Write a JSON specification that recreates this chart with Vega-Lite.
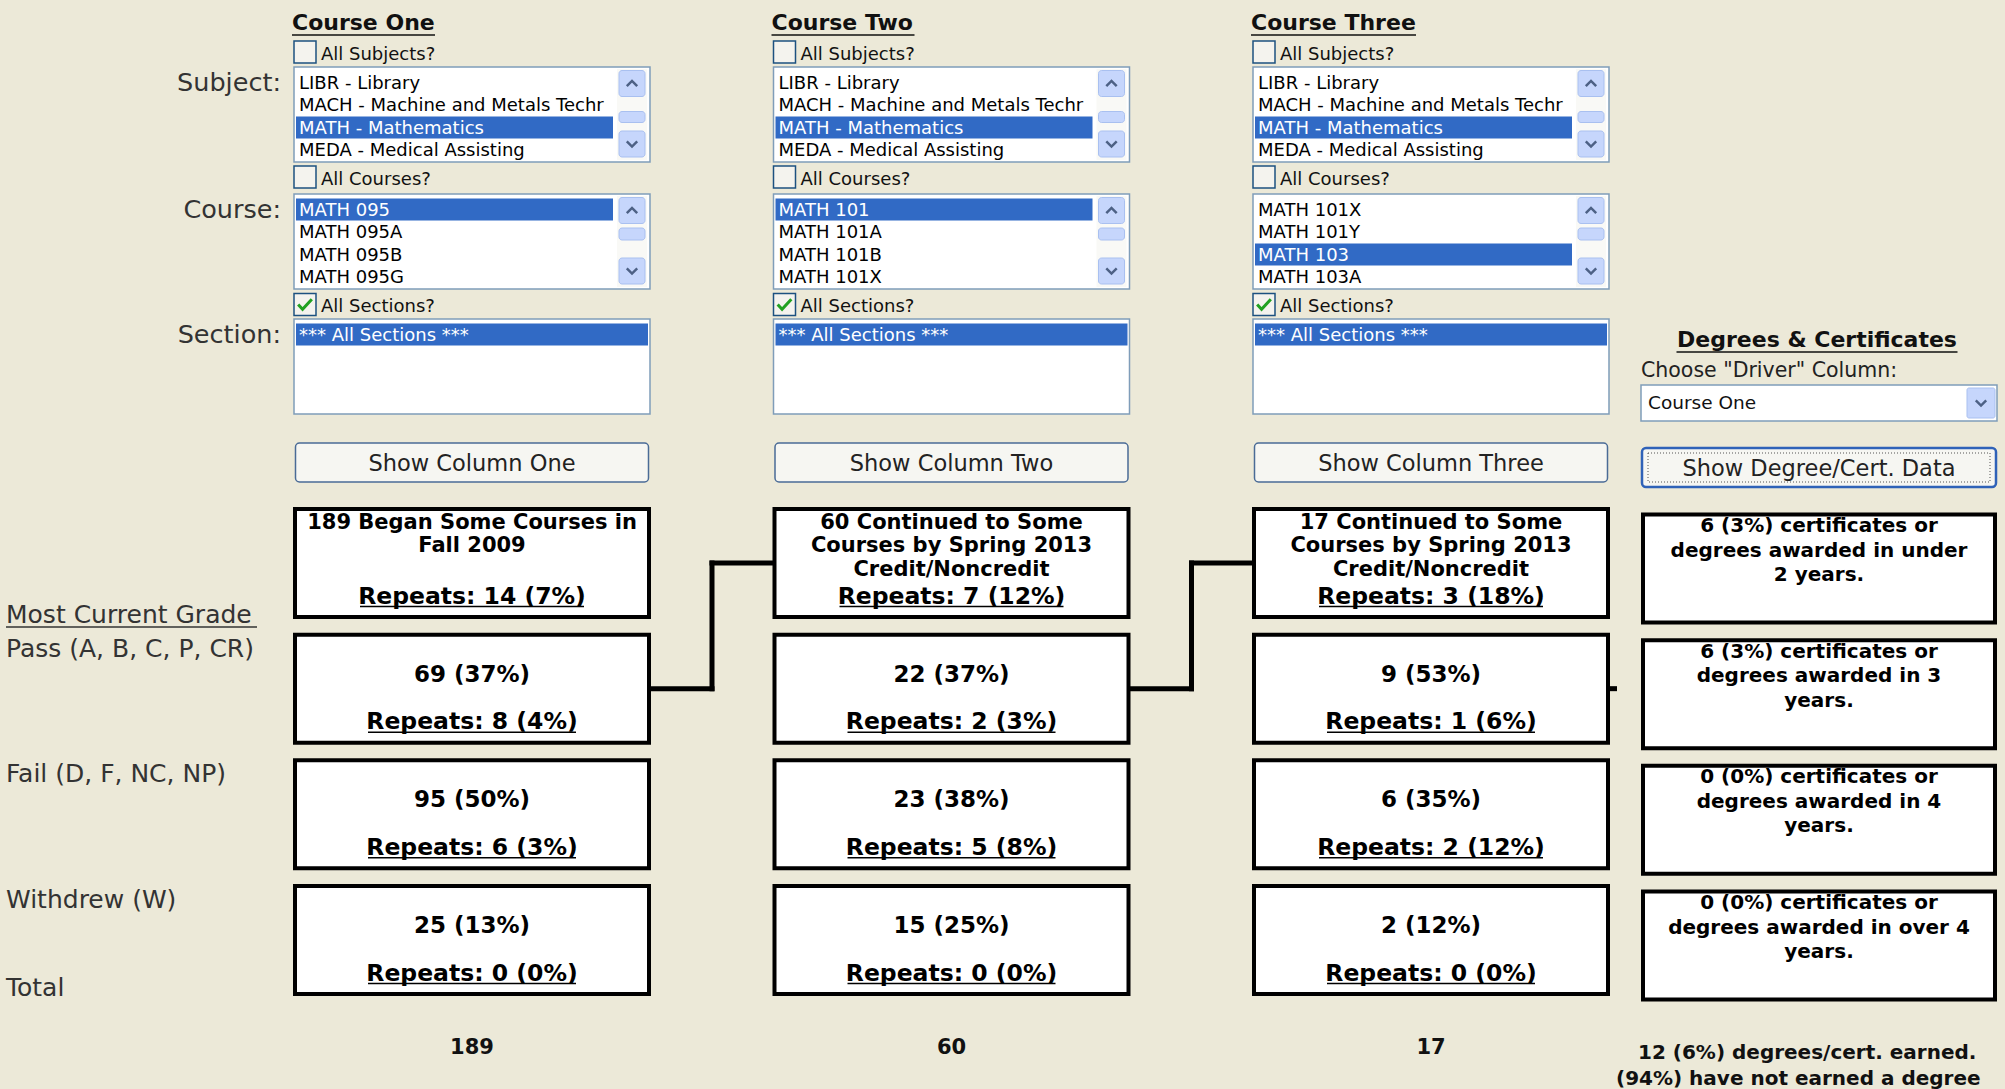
{
  "$schema": "https://vega.github.io/schema/vega-lite/v6.json",
  "width": 2005,
  "height": 1089,
  "padding": 0,
  "autosize": {"type": "fit", "contains": "padding"},
  "background": "#ECE9D8",
  "config": {"view": {"stroke": null}, "font": "DejaVu Sans", "text": {"font": "DejaVu Sans"}},
  "datasets": {
    "titles": [
      {"col": 1, "row": 1, "title": "Course One"},
      {"col": 2, "row": 1, "title": "Course Two"},
      {"col": 3, "row": 1, "title": "Course Three"}
    ],
    "totals": [
      {"col": 1, "row": 22, "total": "189"},
      {"col": 2, "row": 22, "total": "60"},
      {"col": 3, "row": 22, "total": "17"}
    ],
    "checks": [
      {"col": 1, "row": 2, "label": "All Subjects?", "checked": "no"},
      {"col": 1, "row": 7, "label": "All Courses?", "checked": "no"},
      {"col": 1, "row": 12, "label": "All Sections?", "checked": "yes"},
      {"col": 2, "row": 2, "label": "All Subjects?", "checked": "no"},
      {"col": 2, "row": 7, "label": "All Courses?", "checked": "no"},
      {"col": 2, "row": 12, "label": "All Sections?", "checked": "yes"},
      {"col": 3, "row": 2, "label": "All Subjects?", "checked": "no"},
      {"col": 3, "row": 7, "label": "All Courses?", "checked": "no"},
      {"col": 3, "row": 12, "label": "All Sections?", "checked": "yes"}
    ],
    "lists": [
      {"col": 1, "list": "Subject", "row": 3},
      {"col": 1, "list": "Course", "row": 8},
      {"col": 1, "list": "Section", "row": 13},
      {"col": 2, "list": "Subject", "row": 3},
      {"col": 2, "list": "Course", "row": 8},
      {"col": 2, "list": "Section", "row": 13},
      {"col": 3, "list": "Subject", "row": 3},
      {"col": 3, "list": "Course", "row": 8},
      {"col": 3, "list": "Section", "row": 13}
    ],
    "items": [
      {"col": 1, "list": "Subject", "row": 3, "item": "LIBR - Library", "selected": "no"},
      {"col": 1, "list": "Subject", "row": 4, "item": "MACH - Machine and Metals Techr", "selected": "no"},
      {"col": 1, "list": "Subject", "row": 5, "item": "MATH - Mathematics", "selected": "yes"},
      {"col": 1, "list": "Subject", "row": 6, "item": "MEDA - Medical Assisting", "selected": "no"},
      {"col": 1, "list": "Course", "row": 8, "item": "MATH 095", "selected": "yes"},
      {"col": 1, "list": "Course", "row": 9, "item": "MATH 095A", "selected": "no"},
      {"col": 1, "list": "Course", "row": 10, "item": "MATH 095B", "selected": "no"},
      {"col": 1, "list": "Course", "row": 11, "item": "MATH 095G", "selected": "no"},
      {"col": 1, "list": "Section", "row": 13, "item": "*** All Sections ***", "selected": "yes"},
      {"col": 2, "list": "Subject", "row": 3, "item": "LIBR - Library", "selected": "no"},
      {"col": 2, "list": "Subject", "row": 4, "item": "MACH - Machine and Metals Techr", "selected": "no"},
      {"col": 2, "list": "Subject", "row": 5, "item": "MATH - Mathematics", "selected": "yes"},
      {"col": 2, "list": "Subject", "row": 6, "item": "MEDA - Medical Assisting", "selected": "no"},
      {"col": 2, "list": "Course", "row": 8, "item": "MATH 101", "selected": "yes"},
      {"col": 2, "list": "Course", "row": 9, "item": "MATH 101A", "selected": "no"},
      {"col": 2, "list": "Course", "row": 10, "item": "MATH 101B", "selected": "no"},
      {"col": 2, "list": "Course", "row": 11, "item": "MATH 101X", "selected": "no"},
      {"col": 2, "list": "Section", "row": 13, "item": "*** All Sections ***", "selected": "yes"},
      {"col": 3, "list": "Subject", "row": 3, "item": "LIBR - Library", "selected": "no"},
      {"col": 3, "list": "Subject", "row": 4, "item": "MACH - Machine and Metals Techr", "selected": "no"},
      {"col": 3, "list": "Subject", "row": 5, "item": "MATH - Mathematics", "selected": "yes"},
      {"col": 3, "list": "Subject", "row": 6, "item": "MEDA - Medical Assisting", "selected": "no"},
      {"col": 3, "list": "Course", "row": 8, "item": "MATH 101X", "selected": "no"},
      {"col": 3, "list": "Course", "row": 9, "item": "MATH 101Y", "selected": "no"},
      {"col": 3, "list": "Course", "row": 10, "item": "MATH 103", "selected": "yes"},
      {"col": 3, "list": "Course", "row": 11, "item": "MATH 103A", "selected": "no"},
      {"col": 3, "list": "Section", "row": 13, "item": "*** All Sections ***", "selected": "yes"}
    ],
    "formLabels": [
      {"col": 1, "row": 3, "label": "Subject:"},
      {"col": 1, "row": 8, "label": "Course:"},
      {"col": 1, "row": 13, "label": "Section:"}
    ],
    "buttons": [
      {"col": 1, "row": 17, "label": "Show Column One", "focused": "no"},
      {"col": 2, "row": 17, "label": "Show Column Two", "focused": "no"},
      {"col": 3, "row": 17, "label": "Show Column Three", "focused": "no"},
      {"col": 4, "row": 17, "label": "Show Degree/Cert. Data", "focused": "yes"}
    ],
    "boxes": [
      {"col": 1, "stage": "Began", "row": 18, "header": ["189 Began Some Courses in", "Fall 2009"], "main": "", "repeats": "Repeats: 14 (7%)"},
      {"col": 1, "stage": "Pass", "row": 19, "header": [], "main": "69 (37%)", "repeats": "Repeats: 8 (4%)"},
      {"col": 1, "stage": "Fail", "row": 20, "header": [], "main": "95 (50%)", "repeats": "Repeats: 6 (3%)"},
      {"col": 1, "stage": "Withdrew", "row": 21, "header": [], "main": "25 (13%)", "repeats": "Repeats: 0 (0%)"},
      {"col": 2, "stage": "Began", "row": 18, "header": ["60 Continued to Some", "Courses by Spring 2013", "Credit/Noncredit"], "main": "", "repeats": "Repeats: 7 (12%)"},
      {"col": 2, "stage": "Pass", "row": 19, "header": [], "main": "22 (37%)", "repeats": "Repeats: 2 (3%)"},
      {"col": 2, "stage": "Fail", "row": 20, "header": [], "main": "23 (38%)", "repeats": "Repeats: 5 (8%)"},
      {"col": 2, "stage": "Withdrew", "row": 21, "header": [], "main": "15 (25%)", "repeats": "Repeats: 0 (0%)"},
      {"col": 3, "stage": "Began", "row": 18, "header": ["17 Continued to Some", "Courses by Spring 2013", "Credit/Noncredit"], "main": "", "repeats": "Repeats: 3 (18%)"},
      {"col": 3, "stage": "Pass", "row": 19, "header": [], "main": "9 (53%)", "repeats": "Repeats: 1 (6%)"},
      {"col": 3, "stage": "Fail", "row": 20, "header": [], "main": "6 (35%)", "repeats": "Repeats: 2 (12%)"},
      {"col": 3, "stage": "Withdrew", "row": 21, "header": [], "main": "2 (12%)", "repeats": "Repeats: 0 (0%)"}
    ],
    "degrees": [
      {"col": 4, "row": 18, "lines": ["6 (3%) certificates or", "degrees awarded in under", "2 years."]},
      {"col": 4, "row": 19, "lines": ["6 (3%) certificates or", "degrees awarded in 3", "years."]},
      {"col": 4, "row": 20, "lines": ["0 (0%) certificates or", "degrees awarded in 4", "years."]},
      {"col": 4, "row": 21, "lines": ["0 (0%) certificates or", "degrees awarded in over 4", "years."]}
    ],
    "degHeader": [{"col": 4, "row": 14, "title": "Degrees & Certificates"}],
    "degLabel": [{"col": 4, "row": 15, "label": "Choose \"Driver\" Column:"}],
    "dropdown": [{"col": 4, "row": 16, "value": "Course One"}],
    "footer": [
      {"col": 4, "row": 22, "line": 1, "text": "12 (6%) degrees/cert. earned."},
      {"col": 4, "row": 22, "line": 2, "text": "(94%) have not earned a degree"}
    ],
    "grades": [
      {"col": 0, "row": 19, "label": "Pass (A, B, C, P, CR)"},
      {"col": 0, "row": 20, "label": "Fail (D, F, NC, NP)"},
      {"col": 0, "row": 21, "label": "Withdrew (W)"}
    ],
    "gradeHeader": [{"col": 0, "row": 18, "label": "Most Current Grade"}],
    "totalLabel": [{"col": 0, "row": 21, "label": "Total"}],
    "connectors": [
      {"col": 1, "row": 19, "toRow": 18},
      {"col": 2, "row": 19, "toRow": 18}
    ],
    "stubs": [{"col": 3, "row": 19}]
  },
  "encoding": {
    "x": {"field": "col", "type": "quantitative", "axis": null,
      "scale": {"domain": [0, 1, 3, 4], "range": [6, 472, 1431, 1819], "zero": false, "nice": false}},
    "y": {"field": "row", "type": "quantitative", "axis": null,
      "scale": {"domain": [1, 2, 3, 6, 7, 8, 11, 12, 13, 14, 15, 16, 17, 18, 21, 22],
        "range": [23, 52, 82, 149.5, 177, 209, 276.5, 304.5, 334, 340, 371, 403, 462.5, 563, 940, 1047], "zero": false, "nice": false}}
  },
  "layer": [
    {"data": {"name": "titles"},
      "mark": {"type": "text", "align": "left", "baseline": "middle", "xOffset": -180, "fontSize": 22, "fontWeight": "bold", "color": "#111111"},
      "encoding": {"text": {"field": "title"}}},
    {"data": {"name": "titles"}, "transform": [{"filter": "datum.col < 3"}],
      "mark": {"type": "rule", "xOffset": -180, "x2Offset": -37, "yOffset": 12, "strokeWidth": 1.5, "color": "#111111"},
      "encoding": {"x2": {"field": "col"}}},
    {"data": {"name": "titles"}, "transform": [{"filter": "datum.col == 3"}],
      "mark": {"type": "rule", "xOffset": -180, "x2Offset": -15, "yOffset": 12, "strokeWidth": 1.5, "color": "#111111"},
      "encoding": {"x2": {"field": "col"}}},

    {"data": {"name": "checks"},
      "mark": {"type": "rect", "width": 22, "height": 22, "xOffset": -167, "fill": "#F4F3EE", "stroke": "#1C5180", "strokeWidth": 1.5}},
    {"data": {"name": "checks"}, "transform": [{"filter": "datum.checked == 'yes'"}],
      "mark": {"type": "point", "shape": "M-0.7,0L-0.25,0.5L0.7,-0.55", "size": 380, "filled": false, "stroke": "#21A121", "strokeWidth": 3, "opacity": 1, "xOffset": -167}},
    {"data": {"name": "checks"},
      "mark": {"type": "text", "align": "left", "baseline": "middle", "xOffset": -151, "yOffset": 2.5, "fontSize": 18, "color": "#111111"},
      "encoding": {"text": {"field": "label"}}},

    {"data": {"name": "formLabels"},
      "mark": {"type": "text", "align": "right", "baseline": "middle", "xOffset": -191, "yOffset": 1, "fontSize": 25.5, "color": "#333333"},
      "encoding": {"text": {"field": "label"}}},

    {"data": {"name": "lists"},
      "mark": {"type": "rect", "width": 356, "height": 95, "yOffset": 32.5, "fill": "#FFFFFF", "stroke": "#7F9DB9", "strokeWidth": 1.5}},
    {"data": {"name": "items"}, "transform": [{"filter": "datum.selected == 'yes' && datum.list != 'Section'"}],
      "mark": {"type": "rect", "width": 317, "height": 22, "xOffset": -17.5, "yOffset": 0.5, "fill": "#316AC5"}},
    {"data": {"name": "items"}, "transform": [{"filter": "datum.list == 'Section'"}],
      "mark": {"type": "rect", "width": 352, "height": 22, "yOffset": 0.5, "fill": "#316AC5"}},
    {"data": {"name": "items"},
      "mark": {"type": "text", "align": "left", "baseline": "middle", "xOffset": -173, "yOffset": 1.5, "fontSize": 18, "limit": 314, "ellipsis": ""},
      "encoding": {"text": {"field": "item"},
        "color": {"field": "selected", "type": "nominal", "legend": null, "scale": {"domain": ["yes", "no"], "range": ["#FFFFFF", "#000000"]}}}},

    {"data": {"name": "lists"}, "transform": [{"filter": "datum.list != 'Section'"}],
      "mark": {"type": "rect", "width": 30, "height": 91, "xOffset": 160, "yOffset": 32.5, "fill": "#F9F9F6"}},
    {"data": {"name": "lists"}, "transform": [{"filter": "datum.list != 'Section'"}],
      "mark": {"type": "rect", "width": 26, "height": 26, "xOffset": 160, "yOffset": 1.5, "cornerRadius": 3, "fill": "#C6D6FC", "stroke": "#A9C0F0", "strokeWidth": 1}},
    {"data": {"name": "lists"}, "transform": [{"filter": "datum.list != 'Section'"}],
      "mark": {"type": "rect", "width": 26, "height": 26, "xOffset": 160, "yOffset": 62, "cornerRadius": 3, "fill": "#C6D6FC", "stroke": "#A9C0F0", "strokeWidth": 1}},
    {"data": {"name": "lists"}, "transform": [{"filter": "datum.list == 'Subject'"}],
      "mark": {"type": "rect", "width": 26, "height": 11, "xOffset": 160, "yOffset": 35, "cornerRadius": 3, "fill": "#C6D6FC", "stroke": "#A9C0F0", "strokeWidth": 1}},
    {"data": {"name": "lists"}, "transform": [{"filter": "datum.list == 'Course'"}],
      "mark": {"type": "rect", "width": 26, "height": 12, "xOffset": 160, "yOffset": 25, "cornerRadius": 3, "fill": "#C6D6FC", "stroke": "#A9C0F0", "strokeWidth": 1}},
    {"data": {"name": "lists"}, "transform": [{"filter": "datum.list != 'Section'"}],
      "mark": {"type": "point", "shape": "M-0.6,0.3L0,-0.3L0.6,0.3", "size": 300, "filled": false, "stroke": "#4D6185", "strokeWidth": 2.5, "opacity": 1, "xOffset": 160, "yOffset": 1.5}},
    {"data": {"name": "lists"}, "transform": [{"filter": "datum.list != 'Section'"}],
      "mark": {"type": "point", "shape": "M-0.6,-0.3L0,0.3L0.6,-0.3", "size": 300, "filled": false, "stroke": "#4D6185", "strokeWidth": 2.5, "opacity": 1, "xOffset": 160, "yOffset": 62}},

    {"data": {"name": "buttons"}, "transform": [{"filter": "datum.focused == 'no'"}],
      "mark": {"type": "rect", "width": 353, "height": 39, "cornerRadius": 4, "fill": "#F6F6F2", "stroke": "#4A6B96", "strokeWidth": 1.5}},
    {"data": {"name": "buttons"}, "transform": [{"filter": "datum.focused == 'yes'"}],
      "mark": {"type": "rect", "width": 354, "height": 39, "yOffset": 5, "cornerRadius": 4, "fill": "#F6F6F2", "stroke": "#2F62B8", "strokeWidth": 2.5}},
    {"data": {"name": "buttons"}, "transform": [{"filter": "datum.focused == 'yes'"}],
      "mark": {"type": "rect", "width": 342, "height": 29, "yOffset": 5, "filled": false, "stroke": "#555555", "strokeWidth": 1, "strokeDash": [1, 2]}},
    {"data": {"name": "buttons"}, "transform": [{"filter": "datum.focused == 'no'"}],
      "mark": {"type": "text", "align": "center", "baseline": "middle", "yOffset": 1, "fontSize": 22.5, "color": "#222222"},
      "encoding": {"text": {"field": "label"}}},
    {"data": {"name": "buttons"}, "transform": [{"filter": "datum.focused == 'yes'"}],
      "mark": {"type": "text", "align": "center", "baseline": "middle", "yOffset": 6, "fontSize": 22.5, "color": "#222222"},
      "encoding": {"text": {"field": "label"}}},

    {"data": {"name": "degHeader"},
      "mark": {"type": "text", "align": "center", "baseline": "middle", "xOffset": -2, "fontSize": 22, "fontWeight": "bold", "color": "#111111"},
      "encoding": {"text": {"field": "title"}}},
    {"data": {"name": "degHeader"},
      "mark": {"type": "rule", "xOffset": -142.5, "x2Offset": 138.5, "yOffset": 12, "strokeWidth": 1.5, "color": "#111111"},
      "encoding": {"x2": {"field": "col"}}},
    {"data": {"name": "degLabel"},
      "mark": {"type": "text", "align": "left", "baseline": "middle", "xOffset": -178, "fontSize": 20.5, "color": "#222222"},
      "encoding": {"text": {"field": "label"}}},
    {"data": {"name": "dropdown"},
      "mark": {"type": "rect", "width": 356, "height": 36, "fill": "#FFFFFF", "stroke": "#7F9DB9", "strokeWidth": 1.5}},
    {"data": {"name": "dropdown"},
      "mark": {"type": "text", "align": "left", "baseline": "middle", "xOffset": -171, "fontSize": 18.5, "color": "#111111"},
      "encoding": {"text": {"field": "value"}}},
    {"data": {"name": "dropdown"},
      "mark": {"type": "rect", "width": 28, "height": 30, "xOffset": 162, "cornerRadius": 2, "fill": "#C6D6FC", "stroke": "#A9C0F0", "strokeWidth": 1}},
    {"data": {"name": "dropdown"},
      "mark": {"type": "point", "shape": "M-0.6,-0.3L0,0.3L0.6,-0.3", "size": 300, "filled": false, "stroke": "#4D6185", "strokeWidth": 2.5, "opacity": 1, "xOffset": 162}},

    {"data": {"name": "boxes"},
      "mark": {"type": "rect", "width": 354, "height": 108, "fill": "#FFFFFF", "stroke": "#000000", "strokeWidth": 4}},
    {"data": {"name": "boxes"}, "transform": [{"filter": "datum.stage == 'Began'"}],
      "mark": {"type": "text", "align": "center", "baseline": "top", "yOffset": -51.5, "lineHeight": 23.5, "fontSize": 21, "fontWeight": "bold", "color": "#000000"},
      "encoding": {"text": {"field": "header"}}},
    {"data": {"name": "boxes"}, "transform": [{"filter": "datum.stage != 'Began'"}],
      "mark": {"type": "text", "align": "center", "baseline": "middle", "yOffset": -14, "fontSize": 23, "fontWeight": "bold", "color": "#000000"},
      "encoding": {"text": {"field": "main"}}},
    {"data": {"name": "boxes"},
      "mark": {"type": "text", "align": "center", "baseline": "middle", "yOffset": 33.5, "fontSize": 23.5, "fontWeight": "bold", "color": "#000000"},
      "encoding": {"text": {"field": "repeats"}}},
    {"data": {"name": "boxes"}, "transform": [{"filter": "length(datum.repeats) == 15"}],
      "mark": {"type": "rule", "xOffset": -104, "x2Offset": 104, "yOffset": 43.5, "strokeWidth": 1.5, "color": "#000000"},
      "encoding": {"x2": {"field": "col"}}},
    {"data": {"name": "boxes"}, "transform": [{"filter": "length(datum.repeats) == 16"}],
      "mark": {"type": "rule", "xOffset": -112, "x2Offset": 112, "yOffset": 43.5, "strokeWidth": 1.5, "color": "#000000"},
      "encoding": {"x2": {"field": "col"}}},

    {"data": {"name": "degrees"},
      "mark": {"type": "rect", "width": 352, "height": 108, "yOffset": 5.5, "fill": "#FFFFFF", "stroke": "#000000", "strokeWidth": 4}},
    {"data": {"name": "degrees"},
      "mark": {"type": "text", "align": "center", "baseline": "top", "yOffset": -47, "lineHeight": 24.5, "fontSize": 20, "fontWeight": "bold", "color": "#000000"},
      "encoding": {"text": {"field": "lines"}}},

    {"data": {"name": "totals"},
      "mark": {"type": "text", "align": "center", "baseline": "middle", "yOffset": 1, "fontSize": 21, "fontWeight": "bold", "color": "#111111"},
      "encoding": {"text": {"field": "total"}}},
    {"data": {"name": "footer"}, "transform": [{"filter": "datum.line == 1"}],
      "mark": {"type": "text", "align": "left", "baseline": "middle", "xOffset": -181, "yOffset": 6, "fontSize": 20, "fontWeight": "bold", "color": "#111111"},
      "encoding": {"text": {"field": "text"}}},
    {"data": {"name": "footer"}, "transform": [{"filter": "datum.line == 2"}],
      "mark": {"type": "text", "align": "left", "baseline": "middle", "xOffset": -203, "yOffset": 32, "fontSize": 20, "fontWeight": "bold", "color": "#111111"},
      "encoding": {"text": {"field": "text"}}},

    {"data": {"name": "grades"},
      "mark": {"type": "text", "align": "left", "baseline": "middle", "yOffset": -40, "fontSize": 25, "color": "#333333"},
      "encoding": {"text": {"field": "label"}}},
    {"data": {"name": "gradeHeader"},
      "mark": {"type": "text", "align": "left", "baseline": "middle", "yOffset": 52, "fontSize": 25, "color": "#333333"},
      "encoding": {"text": {"field": "label"}}},
    {"data": {"name": "gradeHeader"},
      "mark": {"type": "rule", "x2Offset": 251, "yOffset": 64, "strokeWidth": 1.5, "color": "#333333"},
      "encoding": {"x2": {"field": "col"}}},
    {"data": {"name": "totalLabel"},
      "mark": {"type": "text", "align": "left", "baseline": "middle", "yOffset": 48, "fontSize": 25, "color": "#333333"},
      "encoding": {"text": {"field": "label"}}},

    {"data": {"name": "connectors"},
      "mark": {"type": "rule", "xOffset": 179, "x2Offset": 240, "strokeWidth": 5, "strokeCap": "square", "color": "#000000"},
      "encoding": {"x2": {"field": "col"}}},
    {"data": {"name": "connectors"},
      "mark": {"type": "rule", "xOffset": 240, "strokeWidth": 5, "strokeCap": "square", "color": "#000000"},
      "encoding": {"y2": {"field": "toRow"}}},
    {"data": {"name": "connectors"},
      "mark": {"type": "rule", "xOffset": 240, "x2Offset": 301, "strokeWidth": 5, "strokeCap": "square", "color": "#000000"},
      "encoding": {"y": {"field": "toRow", "type": "quantitative"}, "x2": {"field": "col"}}},
    {"data": {"name": "stubs"},
      "mark": {"type": "rule", "xOffset": 179, "x2Offset": 186, "strokeWidth": 5, "color": "#000000"},
      "encoding": {"x2": {"field": "col"}}}
  ]
}
